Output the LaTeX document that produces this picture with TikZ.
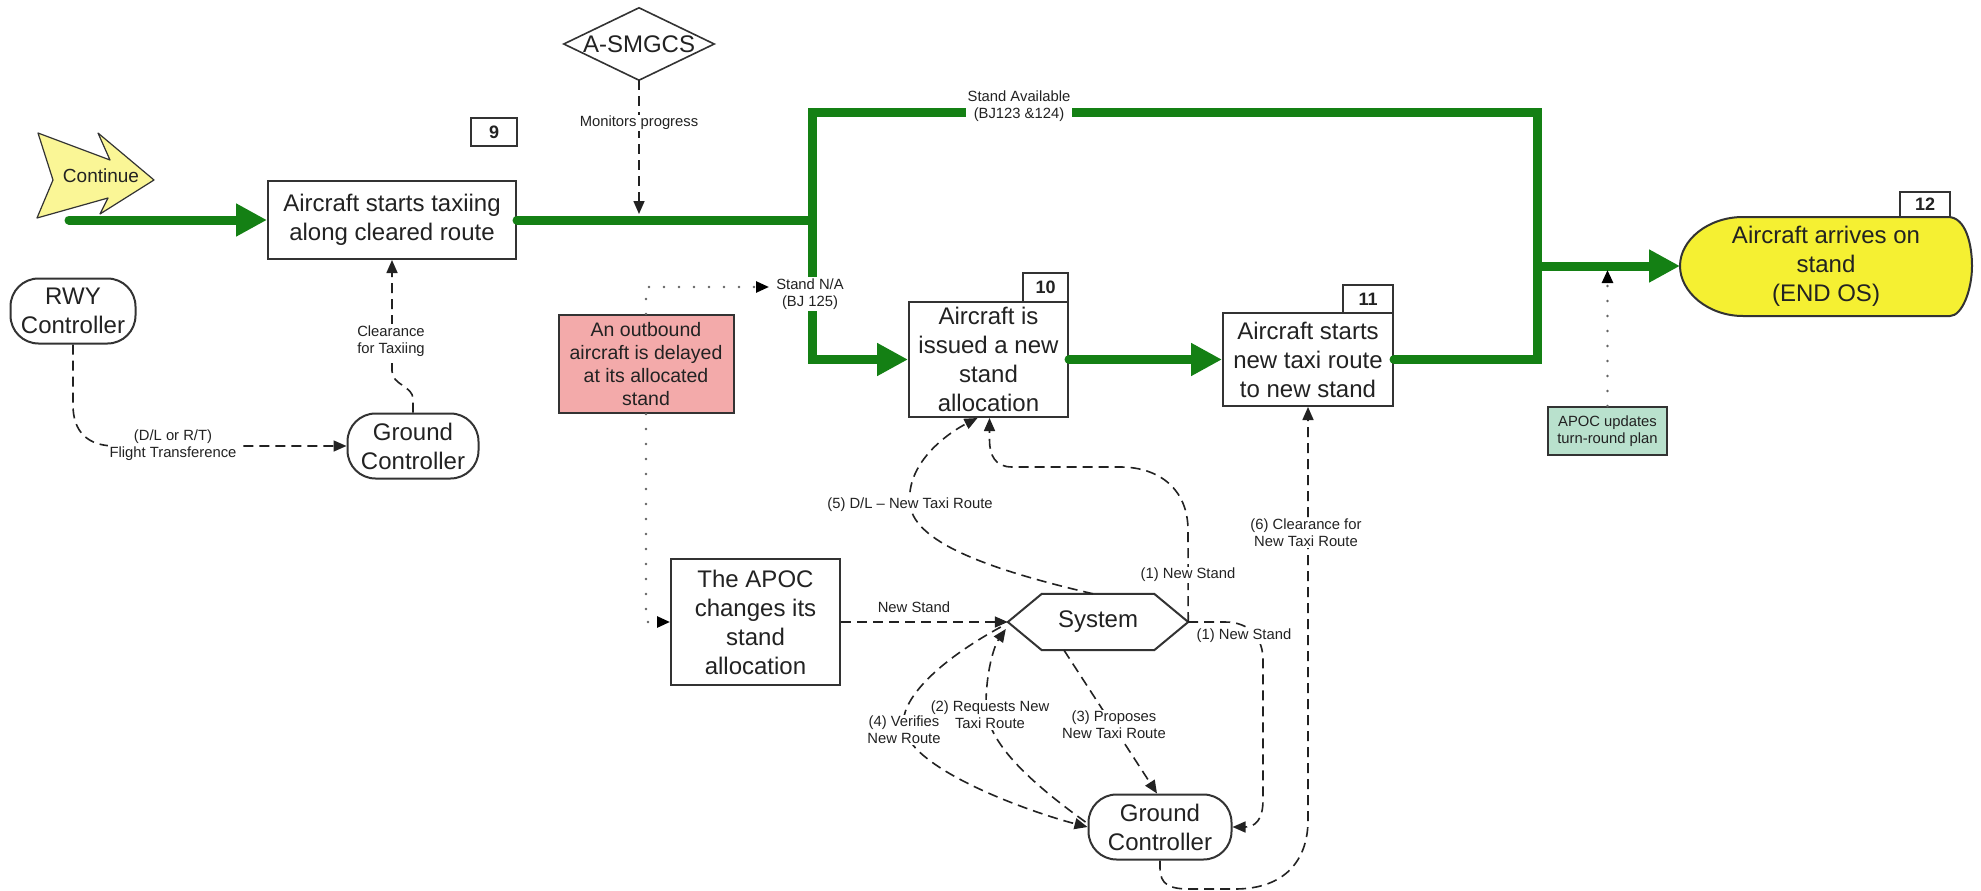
\documentclass[tikz,border=0pt]{standalone}
\usepackage{fontspec}
\setmainfont{Liberation Sans}
\usetikzlibrary{arrows.meta,calc}

\definecolor{ink}{RGB}{34,34,34}
\definecolor{edge}{RGB}{51,51,51}
\definecolor{flow}{RGB}{20,128,20}
\definecolor{delay}{RGB}{243,170,170}
\definecolor{mint}{RGB}{185,225,205}
\definecolor{paleyellow}{RGB}{250,246,150}
\definecolor{endyellow}{RGB}{245,240,50}
\definecolor{dotgray}{RGB}{100,100,100}

\newcommand\fsMain{\fontsize{24}{29}\selectfont}
\newcommand\fsMid{\fontsize{19.5}{23.3}\selectfont}
\newcommand\fsSmall{\fontsize{14.8}{16.6}\selectfont}
\newcommand\fsNum{\fontsize{18}{20}\selectfont\bfseries}

\begin{document}
\begin{tikzpicture}[x=1pt,y=-1pt,
  procbox/.style={draw=edge,line width=2pt,fill=white,align=center,inner sep=0pt,font=\fsMain,text=ink},
  numbox/.style={draw=edge,line width=2pt,fill=white,inner sep=0pt,font=\fsNum,text=ink},
  ctrl/.style={draw=edge,line width=2pt,fill=white,rounded corners=28pt,align=center,inner sep=0pt,font=\fsMain,text=ink,minimum height=65pt},
  flowline/.style={draw=flow,line width=9pt,line cap=round},
  flowarrow/.style={flowline,-{Triangle[length=31pt,width=31pt]}},
  msg/.style={draw=ink,line width=1.6pt,dash pattern=on 10pt off 6pt,-{Triangle[length=13pt,width=11pt]}},
  note/.style={draw=dotgray,line width=2.6pt,line cap=round,dash pattern=on 0pt off 15pt,-{Triangle[length=13pt,width=11pt,color=black]}},
  lbl/.style={fill=white,align=center,inner sep=1.5pt,font=\fsSmall,text=ink},
]
\fill[white] (0,0) rectangle (1981,891);
\useasboundingbox (0,0) rectangle (1981,891);

% ---------- entry marker ----------
\draw[draw=edge,line width=1.2pt,fill=paleyellow,line join=round]
  (38,133) -- (110,160) -- (98,133) -- (154,180) -- (100,214) -- (108,198)
  -- (37,218) -- (53,180) -- cycle;
\node[font=\fontsize{19}{22}\selectfont,text=ink] (cont) at (101,176) {Continue};

% ---------- process boxes ----------
\node[procbox,minimum width=248pt,minimum height=78pt] (b9) at (392,220)
  {Aircraft starts taxiing\\along cleared route};
\node[numbox,minimum width=46pt,minimum height=28pt] (n9) at (494,132) {9};

\node[procbox,minimum width=159pt,minimum height=115pt] (b10) at (988.5,359.5)
  {Aircraft is\\issued a new\\stand\\allocation};
\node[numbox,minimum width=45pt,minimum height=29pt] (n10) at (1045.5,287.5) {10};

\node[procbox,minimum width=170pt,minimum height=93pt] (b11) at (1308,359.5)
  {Aircraft starts\\new taxi route\\to new stand};
\node[numbox,minimum width=50pt,minimum height=28pt] (n11) at (1368,299) {11};

\node[procbox,minimum width=169pt,minimum height=126pt] (apoc) at (755.5,622)
  {The APOC\\changes its\\stand\\allocation};

\node[procbox,fill=delay,font=\fsMid,minimum width=175pt,minimum height=98pt] (pink) at (646,364)
  {An outbound\\aircraft is delayed\\at its allocated\\stand};

\node[procbox,fill=mint,font=\fsSmall,minimum width=119pt,minimum height=48pt] (upd) at (1607.5,431)
  {APOC updates\\turn-round plan};

% ---------- end state ----------
\draw[draw=edge,line width=2pt,fill=endyellow]
  (1743,217) -- (1948,217) .. controls (1966,217) and (1972,245) .. (1972,266)
  .. controls (1972,290) and (1962,316) .. (1950,316) -- (1743,316)
  .. controls (1708,316) and (1680,292) .. (1680,266)
  .. controls (1680,240) and (1708,217) .. (1743,217) -- cycle;
\node[align=center,font=\fsMain,text=ink,inner sep=0pt,minimum width=292pt,minimum height=99pt] (end) at (1826,266.5)
  {Aircraft arrives on\\stand\\(END OS)};
\node[numbox,minimum width=50pt,minimum height=25pt] (n12) at (1925,204.5) {12};

% ---------- controllers ----------
\node[ctrl,minimum width=125pt] (rwy) at (73,311) {RWY\\Controller};
\node[ctrl,minimum width=131pt] (gc1) at (413,446) {Ground\\Controller};
\node[ctrl,minimum width=143pt] (gc2) at (1160,827) {Ground\\Controller};

% ---------- system ----------
\node[font=\fsMain,text=ink,inner sep=0pt,minimum width=180pt,minimum height=56pt] (sys) at (1098,622) {System};
\draw[draw=edge,line width=2pt] (sys.west) -- ($(sys.north west)+(34,0)$) -- ($(sys.north east)+(-34,0)$)
  -- (sys.east) -- ($(sys.south east)+(-34,0)$) -- ($(sys.south west)+(34,0)$) -- cycle;

% ---------- surveillance ----------
\node[font=\fsMain,text=ink,inner sep=0pt,minimum width=150pt,minimum height=72pt] (asm) at (639,44) {A-SMGCS};
\draw[draw=edge,line width=1.6pt] (asm.west) -- (asm.north) -- (asm.east) -- (asm.south) -- cycle;

% ---------- main flow ----------
\draw[flowarrow] (69,220) -- (b9.west);
\draw[flowarrow] (b9.east) -- (812,220) |- (b10.west);
\draw[flowline,line cap=butt] (812,220) -- (812,112) -- (1537,112) -- (1537,266);
\draw[flowarrow,line cap=butt] (1537,266) -- (1680,266);
\draw[flowarrow] (b10.east) -- (b11.west);
\draw[flowline] (b11.east) -- (1537,359.5) -- (1537,262);

\node[lbl] (avail) at (1019,106) {Stand Available\\(BJ123 \&124)};
\node[lbl] (na) at (810,294) {Stand N/A\\(BJ 125)};
\coordinate (naIn) at (769,287);

% ---------- dotted notes ----------
\draw[note] (pink.north) -- (646,287) -- (naIn);
\draw[note] (pink.south) |- (apoc.west);
\draw[note] (upd.north) -- ++(0,-136);

% ---------- messages ----------
\draw[msg] (asm.south) -- (639,214)
  node[lbl,pos=0.32] {Monitors progress};

\draw[msg] (rwy.south) -- (73,405) .. controls (73,432) and (88,446) .. (115,446) -- (gc1.west);
\node[lbl] (xfer) at (173,445) {(D/L or R/T)\\Flight Transference};

\draw[msg] (gc1.north) -- (413,399) .. controls (413,386) and (392,385) .. (392,371) -- (b9.south);
\node[lbl] (clr) at (391,341) {Clearance\\for Taxiing};

\draw[msg] (apoc.east) -- (sys.west);
\node[lbl,fill=none] (ns0) at (914,607) {New Stand};

% (5) downlink of new taxi route
\draw[msg] ($(sys.north)+(-5,0)$) .. controls (1000,572) and (915,545) .. (910,505)
  .. controls (905,462) and (950,432) .. ($(b10.south)+(-11,0)$);
\node[lbl] (l5) at (910,505) {(5) D/L – New Taxi Route};

% (1) new stand to the aircraft
\draw[msg] (sys.east) -- (1188,530) .. controls (1188,490) and (1160,467) .. (1120,467)
  -- (1012,467) .. controls (995,467) and (989.5,455) .. (989.5,440) -- (b10.south -| 989.5,0);
\node[lbl] (l1a) at (1188,575) {(1) New Stand};

% (1) new stand to the ground controller
\draw[msg] (sys.east) -- (1225,622) .. controls (1250,622) and (1263,638) .. (1263,660)
  -- (1263,800) .. controls (1263,820) and (1255,827) .. (gc2.east);
\node[lbl] (l1b) at (1244,636) {(1) New Stand};

% (3) proposed route
\draw[msg] ($(sys.south)+(-34,0)$) -- ($(gc2.north)+(-3,0)$);
\node[lbl] (l3) at (1114,725) {(3) Proposes\\New Taxi Route};

% (2) route request
\draw[msg] ($(gc2.west)+(-2,-5)$) .. controls (1030,782) and (986,742) .. (986,705)
  .. controls (986,672) and (994,646) .. ($(sys.west)+(-2,7)$);
\node[lbl] (l2) at (990,715) {(2) Requests New\\Taxi Route};

% (4) route verification
\draw[msg] ($(sys.west)+(-7,5)$) .. controls (940,660) and (898,700) .. (904,728)
  .. controls (912,770) and (1030,812) .. (gc2.west);
\node[lbl] (l4) at (904,730) {(4) Verifies\\New Route};

% (6) clearance for the new route
\draw[msg] (gc2.south) -- (1160,868) .. controls (1160,885) and (1170,889) .. (1190,889)
  -- (1235,889) .. controls (1285,889) and (1308,860) .. (1308,820) -- (b11.south);
\node[lbl] (l6) at (1306,533) {(6) Clearance for\\New Taxi Route};

\end{tikzpicture}
\end{document}
